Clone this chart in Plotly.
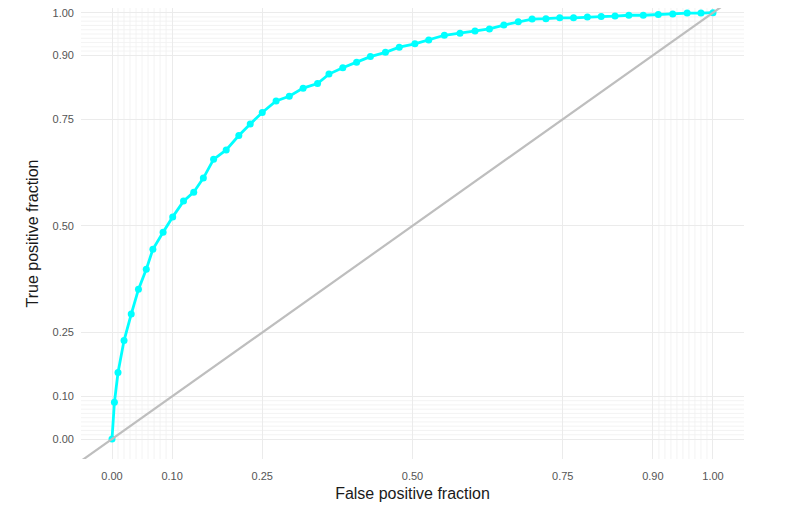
import plotly.graph_objects as go

fpf = [0.0, 0.004, 0.010, 0.020, 0.032, 0.044, 0.057, 0.068, 0.085, 0.101, 0.119, 0.136,
       0.152, 0.169, 0.190, 0.211, 0.230, 0.250, 0.273, 0.295, 0.318, 0.342, 0.361, 0.384,
       0.407, 0.430, 0.455, 0.478, 0.504, 0.527, 0.553, 0.579, 0.604, 0.628, 0.652, 0.676,
       0.699, 0.722, 0.745, 0.768, 0.791, 0.814, 0.837, 0.860, 0.884, 0.909, 0.933, 0.957,
       0.980, 1.0]
tpf = [0.0, 0.086, 0.156, 0.231, 0.293, 0.351, 0.398, 0.445, 0.485, 0.521, 0.558, 0.579,
       0.612, 0.656, 0.678, 0.712, 0.739, 0.766, 0.793, 0.804, 0.823, 0.834, 0.856, 0.871,
       0.884, 0.897, 0.907, 0.919, 0.927, 0.936, 0.947, 0.952, 0.957, 0.962, 0.971, 0.979,
       0.985, 0.986, 0.988, 0.988, 0.990, 0.991, 0.992, 0.994, 0.994, 0.996, 0.997, 0.999,
       0.999, 1.0]

major_breaks = [0, 0.1, 0.25, 0.5, 0.75, 0.9, 1]
major_labels = ["0.00", "0.10", "0.25", "0.50", "0.75", "0.90", "1.00"]
minor_breaks = [0.01, 0.02, 0.03, 0.04, 0.05, 0.06, 0.07, 0.08, 0.09,
                0.91, 0.92, 0.93, 0.94, 0.95, 0.96, 0.97, 0.98, 0.99]
diag = [-0.2, 1.2]

fig = go.Figure()
fig.add_trace(go.Scatter(x=fpf, y=tpf, mode="lines+markers",
                         line=dict(color="#00FFFF", width=2.8),
                         marker=dict(color="#00FFFF", size=7), showlegend=False))
fig.add_trace(go.Scatter(x=diag, y=diag, mode="lines",
                         line=dict(color="#BEBEBE", width=2.2), showlegend=False))

shapes = []
for v in minor_breaks:
    shapes.append(dict(type="line", xref="x", yref="paper", x0=v, x1=v, y0=0, y1=1,
                       line=dict(color="#F0F0F0", width=0.8), layer="below"))
    shapes.append(dict(type="line", xref="paper", yref="y", x0=0, x1=1, y0=v, y1=v,
                       line=dict(color="#F0F0F0", width=0.8), layer="below"))

axis_common = dict(tickmode="array", tickvals=major_breaks, ticktext=major_labels,
                   showgrid=True, gridcolor="#EBEBEB", gridwidth=1, zeroline=False,
                   showline=False, ticks="", automargin=False, ticklabeloverflow="allow",
                   tickfont=dict(family="Liberation Sans", size=11, color="#555555"),
                   title_font=dict(family="Liberation Sans", size=16, color="#1A1A1A"))

fig.update_layout(
    width=792, height=499,
    margin=dict(l=73, r=56, t=0, b=48),
    plot_bgcolor="white", paper_bgcolor="white",
    xaxis=dict(range=[-0.0516, 1.0516], ticklabelstandoff=9,
               title=dict(text="False positive fraction", standoff=6), **axis_common),
    yaxis=dict(range=[-0.0469, 1.011], ticklabelstandoff=6,
               title=dict(text="True positive fraction", standoff=9), **axis_common),
    shapes=shapes,
)
fig.write_html("out.html")
